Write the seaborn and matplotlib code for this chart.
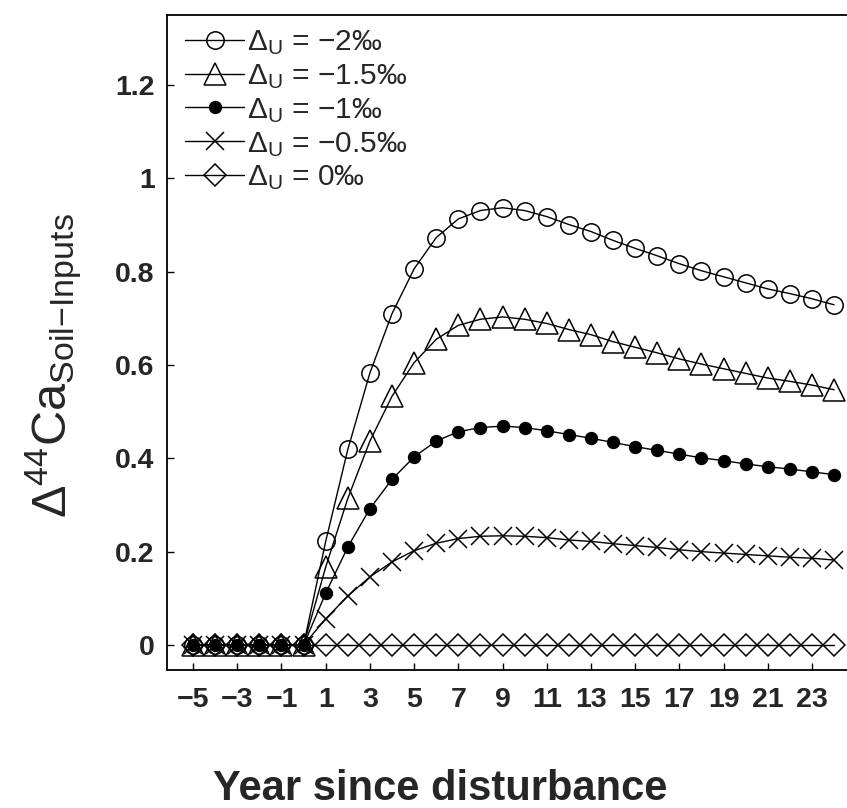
import matplotlib
matplotlib.use("Agg")
import matplotlib.pyplot as plt
import seaborn as sns
import pandas as pd

# ---------------- data ----------------
years = list(range(-5, 25))

du_m2 = [0, 0, 0, 0, 0, 0,
         0.222, 0.419, 0.583, 0.710, 0.806, 0.873, 0.913, 0.931, 0.937, 0.931,
         0.918, 0.901, 0.886, 0.867, 0.850, 0.834, 0.817, 0.802, 0.789, 0.776,
         0.763, 0.753, 0.742, 0.729]
du_m15 = [0, 0, 0, 0, 0, 0,
          0.167, 0.314, 0.437, 0.533, 0.605, 0.655, 0.685, 0.698, 0.703, 0.698,
          0.689, 0.676, 0.665, 0.650, 0.638, 0.626, 0.613, 0.602, 0.592, 0.582,
          0.572, 0.565, 0.557, 0.547]
du_m1 = [0, 0, 0, 0, 0, 0,
         0.111, 0.210, 0.292, 0.355, 0.403, 0.437, 0.457, 0.466, 0.469, 0.466,
         0.459, 0.451, 0.443, 0.434, 0.425, 0.417, 0.409, 0.401, 0.395, 0.388,
         0.382, 0.377, 0.371, 0.365]
du_m05 = [0, 0, 0, 0, 0, 0,
          0.056, 0.105, 0.146, 0.178, 0.202, 0.218, 0.228, 0.233, 0.234, 0.233,
          0.230, 0.225, 0.222, 0.217, 0.213, 0.209, 0.204, 0.200, 0.197, 0.194,
          0.191, 0.188, 0.186, 0.182]
du_0 = [0] * 30

series_labels = ["Δ$_{\\mathrm{U}}$ = −2‰", "Δ$_{\\mathrm{U}}$ = −1.5‰",
                 "Δ$_{\\mathrm{U}}$ = −1‰", "Δ$_{\\mathrm{U}}$ = −0.5‰",
                 "Δ$_{\\mathrm{U}}$ = 0‰"]
series_values = [du_m2, du_m15, du_m1, du_m05, du_0]

x_ticks = [-5, -3, -1, 1, 3, 5, 7, 9, 11, 13, 15, 17, 19, 21, 23]
x_tick_labels = ["−5", "−3", "−1", "1", "3", "5", "7", "9", "11", "13",
                 "15", "17", "19", "21", "23"]
y_ticks = [0, 0.2, 0.4, 0.6, 0.8, 1.0, 1.2]
y_tick_labels = ["0", "0.2", "0.4", "0.6", "0.8", "1", "1.2"]

x_label = "Year since disturbance"
y_label = "Δ$^{44}$Ca$_{\\mathrm{Soil{−}Inputs}}$"

# ---------------- style ----------------
sns.set_style("ticks")
plt.rcParams["font.family"] = ["Liberation Sans", "DejaVu Sans"]
plt.rcParams["mathtext.fontset"] = "custom"
plt.rcParams["mathtext.rm"] = "Liberation Sans"
plt.rcParams["mathtext.it"] = "Liberation Sans:italic"
plt.rcParams["mathtext.bf"] = "Liberation Sans:bold"

styles = [
    dict(marker="o", markersize=12.5, markerfacecolor="none"),
    dict(marker="^", markersize=15.5, markerfacecolor="none"),
    dict(marker="o", markersize=8.5, markerfacecolor="black"),
    dict(marker="x", markersize=13.5, markerfacecolor="none"),
    dict(marker="D", markersize=11.5, markerfacecolor="none"),
]

W, H = 847, 808
fig = plt.figure(figsize=(W / 100, H / 100), dpi=100)
ax = fig.add_axes([167 / W, 1 - 670 / H, 683 / W, 655 / H])

for lab, vals, st in zip(series_labels, series_values, styles):
    df = pd.DataFrame({"year": years, "value": vals})
    sns.lineplot(data=df, x="year", y="value", ax=ax, color="black",
                 linewidth=1.0, markeredgecolor="black", markeredgewidth=1.1,
                 label=lab, **st)

ax.set_xlim(-6.18, 24.72)
ax.set_ylim(-0.0536, 1.35)
ax.set_xticks(x_ticks)
ax.set_xticklabels(x_tick_labels)
ax.set_yticks(y_ticks)
ax.set_yticklabels(y_tick_labels)
ax.tick_params(direction="in", length=5, width=1.0, labelsize=20.5, color="black")
ax.tick_params(axis="x", pad=12)
ax.tick_params(axis="y", pad=9)
for t in ax.get_xticklabels() + ax.get_yticklabels():
    t.set_fontweight("bold")
for s in ax.spines.values():
    s.set_visible(True)
    s.set_linewidth(1.3)
    s.set_color("black")
ax.set_xlabel("")
ax.set_ylabel("")

handles, labels = ax.get_legend_handles_labels()
leg = ax.legend(handles, labels, loc="upper left", bbox_to_anchor=(0.026, 0.98),
                frameon=False, fontsize=21.5, handlelength=2.0, handletextpad=0.08,
                labelspacing=0.17, borderpad=0, borderaxespad=0)

fig.text(440 / W, 1 - 800 / H, x_label, fontsize=30, fontweight="bold",
         ha="center", va="baseline")
fig.text(54 / W, 1 - 366 / H, y_label, fontsize=35, rotation=90,
         ha="center", va="center")

fig.savefig("out.png", dpi=100)
